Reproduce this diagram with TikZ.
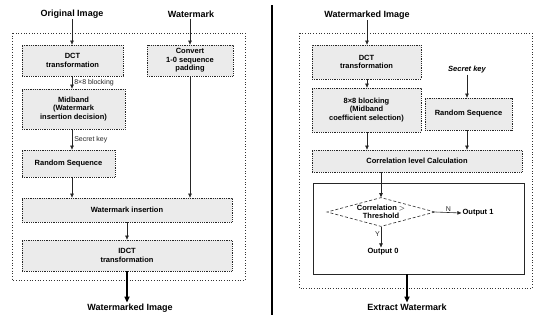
\documentclass[tikz,border=0pt]{standalone}
\usepackage{fontspec}
\setmainfont{Liberation Sans}
\usetikzlibrary{shapes.geometric,arrows.meta}
\begin{document}
\begin{tikzpicture}[x=1pt,y=-1pt,
  tbox/.style={draw=black!85,densely dotted,line width=0.8pt,fill=gray!16,inner sep=1pt,align=center,
    font=\fontsize{7.5}{8.5}\selectfont\bfseries},
  ttl/.style={font=\fontsize{9}{10}\selectfont\bfseries,inner sep=1pt},
  lbl/.style={font=\fontsize{7}{8}\selectfont,inner sep=1pt},
  txt/.style={font=\fontsize{7.5}{8.5}\selectfont\bfseries,inner sep=1pt},
  outer/.style={draw=black!80,dotted,line width=0.7pt},
  arr/.style={-{Triangle[length=4pt,width=3.5pt]},line width=0.6pt,black!85},
  thick arr/.style={-{Triangle[length=6pt,width=5pt]},line width=1.6pt},
]
\useasboundingbox (0,0) rectangle (534,322);
% ---------- left ----------
\draw[outer] (12,33) rectangle (245,280);
\node[ttl] (oi) at (72,14) {Original Image};
\node[ttl] (wm) at (191,14) {Watermark};
\node[tbox,minimum width=101pt,minimum height=31pt] (dctL) at (72.5,60.5) {DCT\\transformation};
\node[tbox,minimum width=86pt,minimum height=31pt] (conv) at (190,60.5) {Convert\\1-0 sequence\\padding};
\node[tbox,minimum width=103pt,minimum height=40pt] (mid) at (73.5,109) {Midband\\(Watermark\\insertion decision)};
\node[tbox,minimum width=93pt,minimum height=27pt] (rsL) at (68.5,163.5) {Random Sequence};
\node[tbox,minimum width=210pt,minimum height=24pt] (wmi) at (127,210) {Watermark insertion};
\node[tbox,minimum width=210pt,minimum height=31pt] (idct) at (127,255.5) {IDCT\\transformation};
\node[ttl] (wmo) at (130,308) {Watermarked Image};
\coordinate (xL) at (72,0);
\coordinate (xC) at (190,0);
\draw[arr] (oi.south -| xL) -- (dctL.north -| xL);
\draw[arr] (wm.south -| xC) -- (conv.north -| xC);
\draw[arr] (dctL.south -| xL) -- node[lbl,anchor=west,xshift=1pt]{8×8 blocking} (mid.north -| xL);
\draw[arr] (mid.south -| xL) -- node[lbl,anchor=west,xshift=1pt]{Secret key} (rsL.north -| xL);
\draw[arr] (rsL.south -| xL) -- (wmi.north -| xL);
\draw[arr] (conv.south -| xC) -- (wmi.north -| xC);
\draw[arr] (wmi.south -| 127,0) -- (idct.north -| 127,0);
\draw[thick arr] (idct.south -| 127,0) -- (wmo.north -| 127,0);
% ---------- separator ----------
\draw[line width=1.8pt] (272,5) -- (272,315);
% ---------- right ----------
\draw[outer] (299,33) rectangle (532,288);
\node[ttl] (wi) at (367,15) {Watermarked Image};
\node[tbox,minimum width=109pt,minimum height=34pt] (dctR) at (366.5,62) {DCT\\transformation};
\node[tbox,minimum width=109pt,minimum height=44pt] (blk) at (366.5,110) {8×8 blocking\\(Midband\\coefficient selection)};
\node[txt,font=\fontsize{7.5}{8.5}\selectfont\bfseries\itshape] (sk) at (467,70) {Secret key};
\node[tbox,minimum width=87pt,minimum height=32pt] (rsR) at (468.5,114) {Random Sequence};
\node[tbox,minimum width=210pt,minimum height=22pt] (corr) at (417,161) {Correlation level Calculation};
\node[draw=black!85,line width=0.8pt,minimum width=211pt,minimum height=91pt] (big) at (418.5,228.5) {};
\node[diamond,aspect=3.7,draw=black!85,densely dashed,line width=0.6pt,inner sep=0pt,minimum width=108pt,minimum height=29pt,align=center,font=\fontsize{7.5}{8.5}\selectfont\bfseries] (dia) at (381,212) {Correlation $>$\\Threshold};
\node[txt] (o1) at (478,213) {Output 1};
\node[txt] (o0) at (383,252) {Output 0};
\node[ttl] (ex) at (407,307) {Extract Watermark};
\coordinate (xR) at (367,0);
\coordinate (xS) at (467,0);
\draw[arr] (wi.south -| xR) -- (dctR.north -| xR);
\draw[arr] (dctR.south -| xR) -- (blk.north -| xR);
\draw[arr] (sk.south -| xS) -- (rsR.north -| xS);
\draw[arr] (blk.south -| xR) -- (corr.north -| xR);
\draw[arr] (rsR.south -| xS) -- (corr.north -| xS);
\draw[arr] (corr.south -| dia.north) -- (dia.north);
\draw[arr] (dia.east) -- node[lbl,above]{N} (o1.west);
\draw[arr] (dia.south) -- node[lbl,left,pos=0.35]{Y} (o0.north -| dia.south);
\draw[thick arr] (big.south -| 407,0) -- (ex.north -| 407,0);
\end{tikzpicture}
\end{document}
